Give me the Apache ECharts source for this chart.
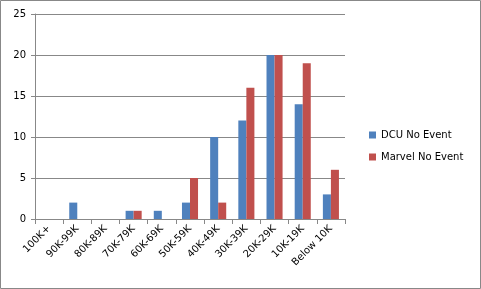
<!DOCTYPE html>
<html><head><meta charset="utf-8">
<script src="https://cdn.jsdelivr.net/npm/echarts@6/dist/echarts.min.js"></script>
<style>html,body{margin:0;padding:0;background:#fff}#c{width:481px;height:289px}</style>
</head><body><div id="c"></div>
<script>
var categories = ['100K+','90K-99K','80K-89K','70K-79K','60K-69K','50K-59K','40K-49K','30K-39K','20K-29K','10K-19K','Below 10K'];
var dcu = [0,2,0,1,1,2,10,12,20,14,3];
var marvel = [0,0,0,1,0,5,2,16,20,19,6];
var yTicks = [0,5,10,15,20,25];
var chart = echarts.init(document.getElementById('c'), null, {renderer:'canvas'});
var font = '"DejaVu Sans", Verdana, sans-serif';
chart.setOption({
  animation:false,
  textStyle:{fontFamily:font},
  graphic:[{type:'rect',shape:{x:0.5,y:0.5,width:480,height:288},style:{fill:'none',stroke:'#888',lineWidth:1},silent:true}],
  grid:{left:35,right:136,top:14,bottom:70},
  legend:{orient:'vertical',left:364,top:125,itemWidth:7,itemHeight:7,itemGap:12,icon:'rect',
    textStyle:{fontSize:10,color:'#000',fontFamily:font}},
  xAxis:{type:'category',data:categories,
    axisLine:{lineStyle:{color:'#888'}},
    axisTick:{show:true,length:5,lineStyle:{color:'#888'}},
    axisLabel:{rotate:45,interval:0,fontSize:10,color:'#000',margin:8,fontFamily:font}},
  yAxis:{type:'value',min:yTicks[0],max:yTicks[yTicks.length-1],interval:5,
    axisLine:{show:true,lineStyle:{color:'#888'}},
    axisTick:{show:true,length:4,lineStyle:{color:'#888'}},
    splitLine:{lineStyle:{color:'#888'}},
    axisLabel:{fontSize:10,color:'#000',margin:9,fontFamily:font}},
  series:[
    {name:'DCU No Event',type:'bar',data:dcu,itemStyle:{color:'#4F81BD'},barGap:'0%',barCategoryGap:'43%'},
    {name:'Marvel No Event',type:'bar',data:marvel,itemStyle:{color:'#C0504D'},barGap:'0%',barCategoryGap:'43%'}
  ]
});
</script></body></html>
